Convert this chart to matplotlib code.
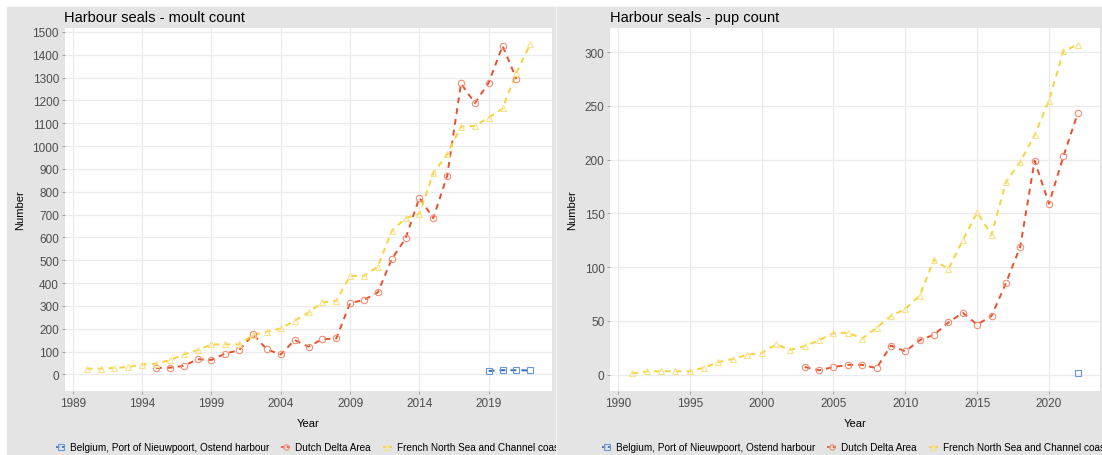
import numpy as np
import matplotlib
matplotlib.use("Agg")
import matplotlib.pyplot as plt
from matplotlib.lines import Line2D
from matplotlib.patches import Rectangle
from matplotlib.transforms import Bbox, TransformedBbox

plt.rcParams['font.family'] = ['Liberation Sans', 'DejaVu Sans']

# ---- data ----
moult_years_fr = list(range(1990, 2023))
moult_fr = [25, 25, 28, 32, 43, 47, 62, 87, 106, 131, 131, 131, 172, 187, 201,
            235, 271, 315, 322, 431, 431, 472, 628, 684, 704, 881, 964, 1085,
            1088, 1124, 1165, 1321, 1446]
moult_years_nl = list(range(1995, 2022))
moult_nl = [28, 29, 37, 66, 63, 91, 106, 175, 109, 87, 150, 121, 154, 157,
            312, 326, 359, 504, 595, 774, 684, 869, 1274, 1188, 1278, 1439, 1293]
moult_years_be = [2019, 2020, 2021, 2022]
moult_be = [15, 18, 18, 17]

pup_years_fr = list(range(1991, 2023))
pup_fr = [1, 3, 3, 3, 3, 6.5, 11.5, 14.5, 18.5, 20, 28, 23, 26.5, 32, 38.5,
          39, 33.5, 43.5, 54.5, 61, 73.5, 107, 98, 125, 151, 130, 179, 198,
          223, 255, 301, 307]
pup_years_nl = list(range(2003, 2023))
pup_nl = [7, 4, 7, 9, 9, 6, 27, 21.5, 32, 37, 48.5, 57.5, 46.5, 54.5, 85,
          119, 199, 159, 203, 243]
pup_years_be = [2022]
pup_be = [1]

series_names = ["Belgium, Port of Nieuwpoort, Ostend harbour",
                "Dutch Delta Area",
                "French North Sea and Channel coast"]
colors = ["#2f6db5", "#e9502c", "#f6d33c"]
marker_colors = ["#6a98d4", "#f08e74", "#f8e289"]
markers = ["s", "o", "^"]

W, H = 1102, 456
fig = plt.figure(figsize=(W / 100, H / 100), dpi=100)
fig.patch.set_facecolor("white")

# grey plot backgrounds (two ggplot images side by side)
bg = "#e4e4e4"
fig.patches.append(Rectangle((7 / W, 0), (555 - 7) / W, (H - 8) / H,
                             transform=fig.transFigure, color=bg, zorder=-10))
fig.patches.append(Rectangle((557 / W, 0), (W - 557) / W, (H - 8) / H,
                             transform=fig.transFigure, color=bg, zorder=-10))


def px_axes(x0, x1, y0, y1):
    return fig.add_axes([x0 / W, 1 - y1 / H, (x1 - x0) / W, (y1 - y0) / H])


def draw_panel(ax, data, title, xlim, ylim, xticks, yticks, legend_x, clip_x):
    ax.set_facecolor("white")
    for (xs, ys), c, mc, m in zip(data, colors, marker_colors, markers):
        ax.plot(xs, ys, color=c, lw=1.4, ls=(0, (3, 2.6)), zorder=3)
        ax.plot(xs, ys, ls="none", marker=m, ms=4.6, mfc="none", mec=mc,
                mew=0.8, zorder=4)
    ax.set_xlim(*xlim)
    ax.set_ylim(*ylim)
    ax.set_xticks(xticks)
    ax.set_yticks(yticks)
    ax.grid(True, color="#ebebeb", lw=0.9)
    ax.set_axisbelow(True)
    for s in ax.spines.values():
        s.set_visible(False)
    ax.tick_params(axis="both", colors="#999999", length=2.5, width=0.6,
                   labelsize=8.5, labelcolor="#4d4d4d", pad=1.5)
    ax.set_xlabel("Year", fontsize=8, labelpad=7)
    ax.set_ylabel("Number", fontsize=8, labelpad=5)
    ax.set_title(title, loc="left", fontsize=10.5, pad=5, x=0.0)

    handles = [Line2D([], [], color=c, lw=1.2, ls=(0, (2, 1.5)), marker=m,
                      ms=3.8, mfc="none", mec=mc, mew=0.8)
               for c, mc, m in zip(colors, marker_colors, markers)]
    leg = ax.legend(handles, series_names, loc="center left", ncol=3,
                    bbox_to_anchor=(legend_x / W, 1 - 448 / H),
                    bbox_transform=fig.transFigure, frameon=False,
                    fontsize=7.2, handlelength=0.9, handletextpad=0.5,
                    columnspacing=1.2, borderpad=0, borderaxespad=0)
    # the reference image cuts the last legend entry at the panel edge
    clip = TransformedBbox(Bbox([[0, 0], [clip_x / W, 1]]), fig.transFigure)
    for t in leg.get_texts():
        t.set_clip_box(clip)
        t.set_clip_on(True)


ax1 = px_axes(64.5, 552.5, 29, 392)
draw_panel(ax1,
           [(moult_years_be, moult_be), (moult_years_nl, moult_nl),
            (moult_years_fr, moult_fr)],
           "Harbour seals - moult count",
           (1988.4, 2023.6), (-73, 1517),
           range(1989, 2020, 5), range(0, 1501, 100), 56, 556)

ax2 = px_axes(610, 1100, 29, 392)
draw_panel(ax2,
           [(pup_years_be, pup_be), (pup_years_nl, pup_nl),
            (pup_years_fr, pup_fr)],
           "Harbour seals - pup count",
           (1989.45, 2023.55), (-15.3, 322.5),
           range(1990, 2021, 5), range(0, 301, 50), 602, W)

fig.savefig("out.png", dpi=100)
